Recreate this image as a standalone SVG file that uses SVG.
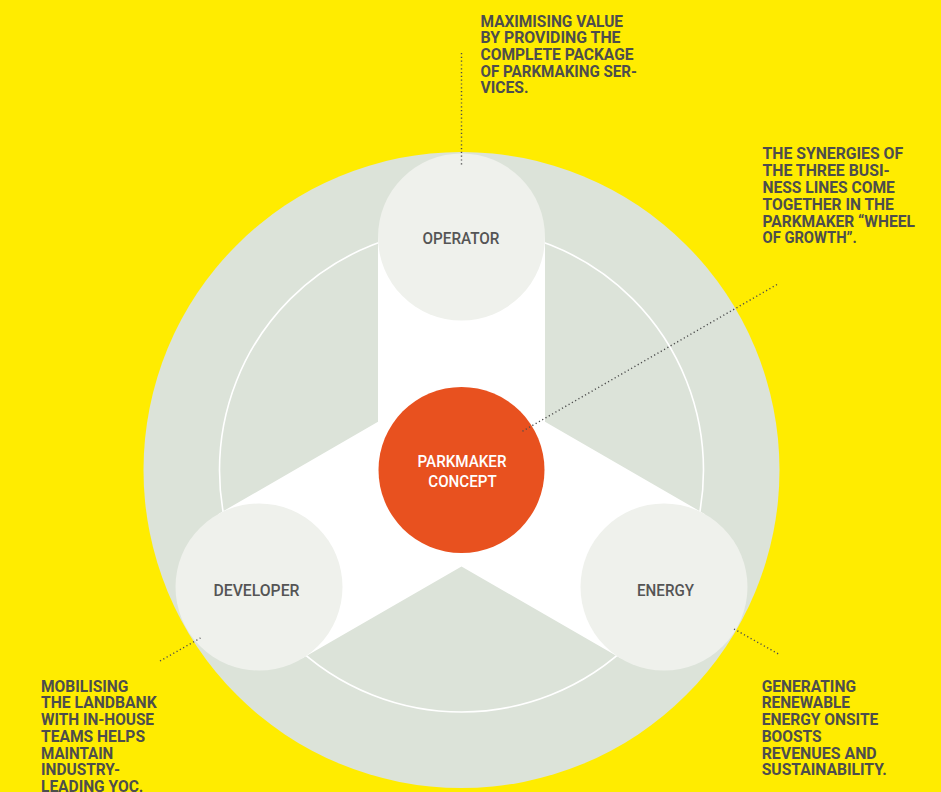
<svg xmlns="http://www.w3.org/2000/svg" width="941" height="792" viewBox="0 0 941 792">
<defs>
<style>
.note{font-family:Roboto,"Liberation Sans",sans-serif;font-weight:700;font-size:16px;fill:#4d4d4d;}
.lbl{font-family:Roboto,"Liberation Sans",sans-serif;font-weight:500;font-size:17px;fill:#555555;text-anchor:middle;}
.ctr{font-family:Roboto,"Liberation Sans",sans-serif;font-weight:500;font-size:17px;fill:#ffffff;text-anchor:middle;}
.node{fill:#eff1ec;}
.dot{stroke:#4d4d4d;stroke-width:1.4;stroke-dasharray:1.2 2.6;fill:none;}
</style>
</defs>
<rect width="941" height="792" fill="#ffec00"/>
<g id="wheel">
<circle cx="461.5" cy="470" r="318" fill="#dce3d9"/>
<circle cx="461.5" cy="470" r="242" fill="none" stroke="#ffffff" stroke-width="1.6"/>
<polygon points="378,237 545,237 545,421.8 705,514.2 621.5,658.8 461.5,566.4 301.5,658.8 218,514.2 378,421.8" fill="#ffffff"/>
</g>
<g id="operator">
<circle class="node" cx="461.5" cy="237" r="83.5"/>
<text class="lbl" x="461" y="244" textLength="77" lengthAdjust="spacingAndGlyphs">OPERATOR</text>
</g>
<g id="developer">
<circle class="node" cx="259" cy="587" r="83.5"/>
<text class="lbl" x="256.5" y="596" textLength="86" lengthAdjust="spacingAndGlyphs">DEVELOPER</text>
</g>
<g id="energy">
<circle class="node" cx="664" cy="587" r="83.5"/>
<text class="lbl" x="665.5" y="596" textLength="57" lengthAdjust="spacingAndGlyphs">ENERGY</text>
</g>
<g id="parkmaker-concept">
<circle cx="461.5" cy="470" r="83" fill="#e8511f"/>
<text class="ctr" x="462" y="467" textLength="89" lengthAdjust="spacingAndGlyphs">PARKMAKER</text>
<text class="ctr" x="462.5" y="486.7" textLength="68.4" lengthAdjust="spacingAndGlyphs">CONCEPT</text>
</g>
<g id="connectors">
<line class="dot" x1="461.5" y1="53" x2="461.5" y2="167"/>
<line class="dot" x1="777" y1="284.5" x2="522" y2="431.5"/>
<line class="dot" x1="160" y1="661" x2="200.5" y2="638"/>
<line class="dot" x1="734" y1="629" x2="778.5" y2="654"/>
</g>
<g id="note-operator">
<text class="note" x="480.5" y="26.6" textLength="142.5" lengthAdjust="spacingAndGlyphs">MAXIMISING VALUE</text>
<text class="note" x="480.5" y="43.3" textLength="140" lengthAdjust="spacingAndGlyphs">BY PROVIDING THE</text>
<text class="note" x="480.5" y="60.2" textLength="153" lengthAdjust="spacingAndGlyphs">COMPLETE PACKAGE</text>
<text class="note" x="480.5" y="77" textLength="156.5" lengthAdjust="spacingAndGlyphs">OF PARKMAKING SER-</text>
<text class="note" x="480.5" y="93" textLength="48" lengthAdjust="spacingAndGlyphs">VICES.</text>
</g>
<g id="note-wheel">
<text class="note" x="762.5" y="159.3" textLength="140.6" lengthAdjust="spacingAndGlyphs">THE SYNERGIES OF</text>
<text class="note" x="762.5" y="176" textLength="127.3" lengthAdjust="spacingAndGlyphs">THE THREE BUSI-</text>
<text class="note" x="762.5" y="192.7" textLength="132.3" lengthAdjust="spacingAndGlyphs">NESS LINES COME</text>
<text class="note" x="762.5" y="209.7" textLength="131.3" lengthAdjust="spacingAndGlyphs">TOGETHER IN THE</text>
<text class="note" x="762.5" y="226.5" textLength="152.3" lengthAdjust="spacingAndGlyphs">PARKMAKER “WHEEL</text>
<text class="note" x="762.5" y="243.2" textLength="94.3" lengthAdjust="spacingAndGlyphs">OF GROWTH”.</text>
</g>
<g id="note-developer">
<text class="note" x="41" y="691.7" textLength="87.3" lengthAdjust="spacingAndGlyphs">MOBILISING</text>
<text class="note" x="41" y="708.4" textLength="115.7" lengthAdjust="spacingAndGlyphs">THE LANDBANK</text>
<text class="note" x="41" y="725.1" textLength="113" lengthAdjust="spacingAndGlyphs">WITH IN-HOUSE</text>
<text class="note" x="41" y="741.8" textLength="104" lengthAdjust="spacingAndGlyphs">TEAMS HELPS</text>
<text class="note" x="41" y="758.5" textLength="72.3" lengthAdjust="spacingAndGlyphs">MAINTAIN</text>
<text class="note" x="41" y="775.2" textLength="79" lengthAdjust="spacingAndGlyphs">INDUSTRY-</text>
<text class="note" x="41" y="791.9" textLength="102.3" lengthAdjust="spacingAndGlyphs">LEADING YOC.</text>
</g>
<g id="note-energy">
<text class="note" x="761.7" y="691.7" textLength="94.3" lengthAdjust="spacingAndGlyphs">GENERATING</text>
<text class="note" x="761.7" y="708.4" textLength="88.3" lengthAdjust="spacingAndGlyphs">RENEWABLE</text>
<text class="note" x="761.7" y="725.1" textLength="116.6" lengthAdjust="spacingAndGlyphs">ENERGY ONSITE</text>
<text class="note" x="761.7" y="741.8" textLength="60" lengthAdjust="spacingAndGlyphs">BOOSTS</text>
<text class="note" x="761.7" y="758.5" textLength="115" lengthAdjust="spacingAndGlyphs">REVENUES AND</text>
<text class="note" x="761.7" y="775.2" textLength="125" lengthAdjust="spacingAndGlyphs">SUSTAINABILITY.</text>
</g>
</svg>
